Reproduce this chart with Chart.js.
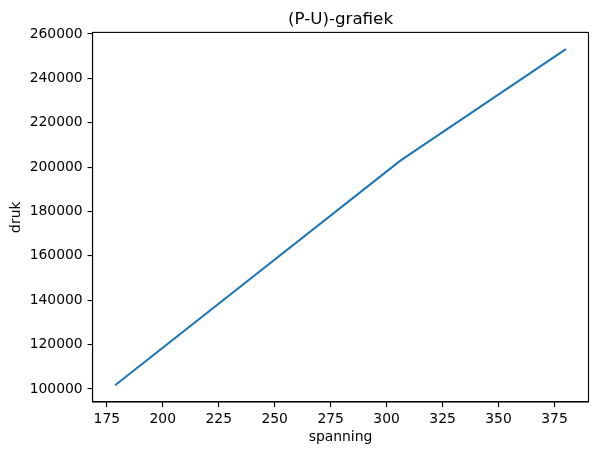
<!DOCTYPE html>
<html>
<head>
<meta charset="utf-8">
<script src="https://cdn.jsdelivr.net/npm/chart.js@4"></script>
<style>
  html, body { margin: 0; padding: 0; background: #fff; }
  canvas { display: block; }
</style>
</head>
<body>
<canvas id="chart" width="598" height="455"></canvas>
<script>
const TITLE   = '(P-U)-grafiek'
const X_LABEL = 'spanning'
const Y_LABEL = 'druk'

const spanning = [178.7, 306.3, 380.1]
const druk     = [101700, 203000, 253150]

const X_TICKS = [175, 200, 225, 250, 275, 300, 325, 350, 375]
const Y_TICKS = [100000, 120000, 140000, 160000, 180000, 200000, 220000, 240000, 260000]

const FONT = 'DejaVu Sans'

// frame + title, matplotlib style
const frame = {
  id: 'frame',
  afterDraw(chart) {
    const { ctx, chartArea: a } = chart
    ctx.save()
    ctx.strokeStyle = '#000'
    ctx.lineWidth = 1.1
    ctx.strokeRect(a.left, a.top, a.right - a.left, a.bottom - a.top)
    ctx.fillStyle = '#000'
    ctx.font = `16.7px "${FONT}"`
    ctx.textAlign = 'center'
    ctx.textBaseline = 'alphabetic'
    ctx.fillText(TITLE, (a.left + a.right) / 2, a.top - 8.5)
    ctx.restore()
  }
}

const tickFont = { family: FONT, size: 13.9 }

new Chart(document.getElementById('chart'), {
  type: 'scatter',
  data: {
    datasets: [{
      data: spanning.map((x, i) => ({ x, y: druk[i] })),
      showLine: true,
      borderColor: '#1f77b4',
      borderWidth: 2.1,
      pointRadius: 0,
      fill: false,
    }]
  },
  options: {
    responsive: false,
    animation: false,
    events: [],
    layout: { padding: { top: 32.4, right: 9.5, left: 0, bottom: 0 } },
    plugins: { legend: { display: false }, tooltip: { enabled: false } },
    scales: {
      x: {
        type: 'linear',
        min: 168.6, max: 390.2,
        afterBuildTicks: s => { s.ticks = X_TICKS.map(v => ({ value: v })) },
        afterFit: s => { s.height = 53 },
        grid: { drawOnChartArea: false, drawTicks: true, tickLength: 4.9, color: '#000', lineWidth: 1.1 },
        border: { display: true, color: '#000', width: 1.1 },
        ticks: { color: '#000', font: tickFont, padding: 4, maxRotation: 0, autoSkip: false, callback: v => String(v) },
        title: { display: true, text: X_LABEL, color: '#000', font: tickFont, padding: { top: 0, bottom: 9 } },
      },
      y: {
        type: 'linear',
        min: 94136, max: 260720,
        afterBuildTicks: s => { s.ticks = Y_TICKS.map(v => ({ value: v })) },
        afterFit: s => { s.width = 92.5 },
        grid: { drawOnChartArea: false, drawTicks: true, tickLength: 4.9, color: '#000', lineWidth: 1.1 },
        border: { display: true, color: '#000', width: 1.1 },
        ticks: { color: '#000', font: tickFont, padding: 4.9, autoSkip: false, callback: v => String(v) },
        title: { display: true, text: Y_LABEL, color: '#000', font: tickFont, padding: { top: 8.5, bottom: 0 } },
      },
    },
  },
  plugins: [frame],
})
</script>
</body>
</html>
